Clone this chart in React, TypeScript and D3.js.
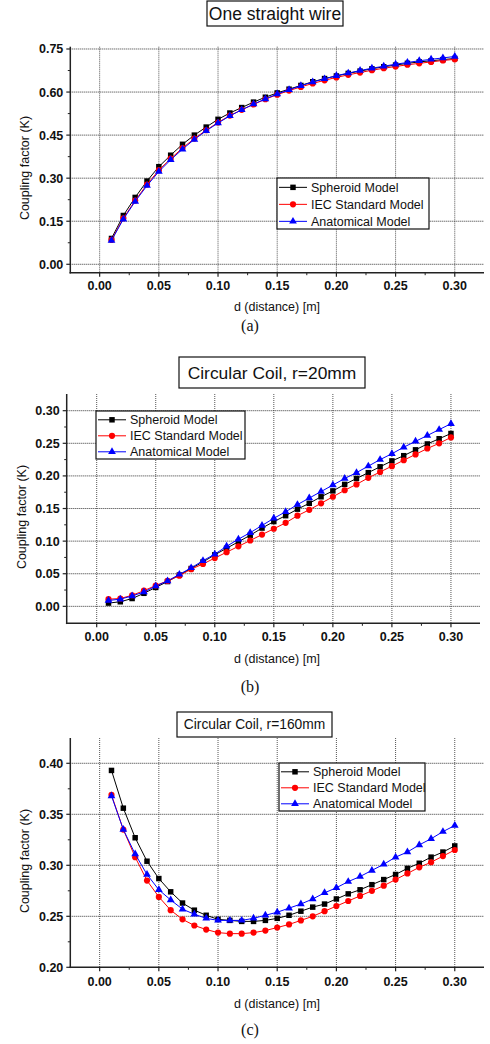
import * as d3 from 'd3';

// distance d [m]
const distance = [
  0.01, 0.02, 0.03, 0.04, 0.05, 0.06, 0.07, 0.08, 0.09, 0.1, 0.11, 0.12, 0.13, 0.14, 0.15,
  0.16, 0.17, 0.18, 0.19, 0.2, 0.21, 0.22, 0.23, 0.24, 0.25, 0.26, 0.27, 0.28, 0.29, 0.3,
];

const seriesNames = ['Spheroid Model', 'IEC Standard Model', 'Anatomical Model'];

// (a) one straight wire
const wireSpheroid = [
  0.09, 0.17, 0.233, 0.29, 0.34, 0.38, 0.418, 0.45, 0.478, 0.505, 0.527, 0.546, 0.565, 0.582, 0.597,
  0.61, 0.623, 0.636, 0.647, 0.656, 0.665, 0.673, 0.681, 0.688, 0.694, 0.7, 0.705, 0.709, 0.713, 0.717,
];
const wireIEC = [
  0.085, 0.16, 0.222, 0.278, 0.328, 0.368, 0.405, 0.438, 0.467, 0.494, 0.518, 0.538, 0.557, 0.575, 0.591,
  0.605, 0.618, 0.63, 0.641, 0.651, 0.66, 0.668, 0.676, 0.683, 0.689, 0.695, 0.7, 0.705, 0.71, 0.714,
];
const wireAnatomical = [
  0.083, 0.157, 0.219, 0.274, 0.323, 0.364, 0.401, 0.435, 0.465, 0.492, 0.517, 0.538, 0.558, 0.576, 0.593,
  0.608, 0.622, 0.635, 0.646, 0.657, 0.666, 0.675, 0.683, 0.69, 0.697, 0.703, 0.709, 0.714, 0.719, 0.724,
];

// (b) circular coil r=20mm
const coil20Spheroid = [
  0.005, 0.007, 0.012, 0.02, 0.029, 0.038, 0.048, 0.058, 0.068, 0.079, 0.089, 0.099, 0.109, 0.12, 0.13,
  0.139, 0.149, 0.158, 0.168, 0.177, 0.187, 0.196, 0.205, 0.214, 0.223, 0.231, 0.24, 0.249, 0.257, 0.265,
];
const coil20IEC = [
  0.011, 0.012, 0.017, 0.024, 0.032, 0.039, 0.047, 0.057, 0.065, 0.074, 0.083, 0.092, 0.101, 0.11, 0.119,
  0.128, 0.139, 0.148, 0.158, 0.168, 0.178, 0.187, 0.197, 0.206, 0.215, 0.224, 0.233, 0.242, 0.25, 0.259,
];
const coil20Anatomical = [
  0.009, 0.011, 0.016, 0.022, 0.031, 0.039, 0.049, 0.059, 0.07, 0.08, 0.092, 0.103, 0.113, 0.124, 0.135,
  0.145, 0.156, 0.166, 0.176, 0.186, 0.196, 0.205, 0.215, 0.225, 0.234, 0.244, 0.253, 0.262, 0.271, 0.28,
];

// (c) circular coil r=160mm
const coil160Spheroid = [
  0.393, 0.356, 0.327, 0.304, 0.287, 0.274, 0.263, 0.256, 0.251, 0.247, 0.246, 0.245, 0.245, 0.246, 0.248,
  0.251, 0.255, 0.259, 0.262, 0.267, 0.272, 0.276, 0.281, 0.286, 0.291, 0.297, 0.302, 0.308, 0.313, 0.319,
];
const coil160IEC = [
  0.369, 0.335, 0.308, 0.285, 0.269, 0.256, 0.247, 0.241, 0.237, 0.234, 0.233, 0.233, 0.234, 0.236, 0.239,
  0.242, 0.246, 0.25, 0.255, 0.26, 0.265, 0.27, 0.275, 0.28, 0.286, 0.292, 0.298, 0.303, 0.309, 0.315,
];
const coil160Anatomical = [
  0.368, 0.335, 0.311, 0.291, 0.276, 0.266, 0.257, 0.252, 0.248, 0.246, 0.246, 0.246, 0.248, 0.251, 0.254,
  0.258, 0.262, 0.267, 0.273, 0.278, 0.284, 0.289, 0.295, 0.301, 0.308, 0.313, 0.32, 0.326, 0.333, 0.339,
];

const xTicks = [0, 0.05, 0.1, 0.15, 0.2, 0.25, 0.3];
const xMinorTicks = [0.025, 0.075, 0.125, 0.175, 0.225, 0.275];
const wireYTicks = [0, 0.15, 0.3, 0.45, 0.6, 0.75];
const wireYMinor = [0.075, 0.225, 0.375, 0.525, 0.675];
const coil20YTicks = [0, 0.05, 0.1, 0.15, 0.2, 0.25, 0.3];
const coil20YMinor = [0.025, 0.075, 0.125, 0.175, 0.225, 0.275];
const coil160YTicks = [0.2, 0.25, 0.3, 0.35, 0.4];
const coil160YMinor = [0.225, 0.275, 0.325, 0.375];

const colors = ['#000000', '#ff0000', '#0000ff'];
const symbols = [d3.symbolSquare, d3.symbolCircle, d3.symbolTriangle];
const symbolSizes = [30, 30, 26];

const SANS = '"Liberation Sans", Arial, sans-serif';

const panels = [
  {
    title: 'One straight wire', titleSize: 17.5, titleBox: [207, 1, 136, 25], titleY: 20,
    series: [wireSpheroid, wireIEC, wireAnatomical],
    frame: { left: 70.3, right: 484, top: 46.7, bottom: 272.7 },
    xDomain: [-0.0248, 0.3247], yDomain: [-0.0293, 0.758],
    yTicks: wireYTicks, yMinor: wireYMinor,
    legend: [277, 178, 152, 51],
    yLabelX: 24, yLabelY: 168, xTickY: 290, xLabelY: 311,
    caption: '(a)', captionY: 331,
  },
  {
    title: 'Circular Coil, r=20mm', titleSize: 17.4, titleBox: [179, 357, 186, 31], titleY: 379,
    series: [coil20Spheroid, coil20IEC, coil20Anatomical],
    frame: { left: 66.7, right: 480, top: 394, bottom: 623.3 },
    xDomain: [-0.0254, 0.3246], yDomain: [-0.026, 0.3256],
    yTicks: coil20YTicks, yMinor: coil20YMinor,
    legend: [96, 411, 149, 48],
    yLabelX: 21, yLabelY: 517, xTickY: 641, xLabelY: 663,
    caption: '(b)', captionY: 692,
  },
  {
    title: 'Circular Coil, r=160mm', titleSize: 13.8, titleBox: [177, 712, 155, 25], titleY: 729,
    series: [coil160Spheroid, coil160IEC, coil160Anatomical],
    frame: { left: 70.3, right: 484, top: 738, bottom: 967.3 },
    xDomain: [-0.0248, 0.3247], yDomain: [0.2, 0.4248],
    yTicks: coil160YTicks, yMinor: coil160YMinor,
    legend: [279, 763, 146, 48],
    yLabelX: 24, yLabelY: 861, xTickY: 986, xLabelY: 1008,
    caption: '(c)', captionY: 1035,
  },
];

function Panel({ p }: { p: (typeof panels)[number] }) {
  const { frame } = p;
  const x = d3.scaleLinear().domain(p.xDomain).range([frame.left, frame.right]);
  const y = d3.scaleLinear().domain(p.yDomain).range([frame.bottom, frame.top]);
  const line = d3
    .line<number>()
    .x((_, i) => x(distance[i]))
    .y((d) => y(d));
  const [lx, ly, lw, lh] = p.legend;
  const rowH = lh / 3;
  const [tx, ty, tw, th] = p.titleBox;

  return (
    <g>
      {/* grid */}
      {xTicks.map((t) => (
        <line key={'gx' + t} x1={x(t)} x2={x(t)} y1={frame.top} y2={frame.bottom}
          stroke="#555" strokeWidth={1} strokeDasharray="1,1" />
      ))}
      {p.yTicks.map((t) =>
        y(t) < frame.bottom - 1 ? (
          <line key={'gy' + t} x1={frame.left} x2={frame.right} y1={y(t)} y2={y(t)}
            stroke="#333" strokeWidth={1} strokeDasharray="1,1" />
        ) : null
      )}

      {/* axes */}
      <line x1={frame.left} x2={frame.left} y1={frame.top} y2={frame.bottom + 0.75} stroke="#222" strokeWidth={1.5} />
      <line x1={frame.left - 0.75} x2={frame.right} y1={frame.bottom} y2={frame.bottom} stroke="#222" strokeWidth={1.5} />
      {p.yTicks.map((t) => (
        <g key={'yt' + t}>
          <line x1={frame.left - 4} x2={frame.left} y1={y(t)} y2={y(t)} stroke="#222" strokeWidth={1.2} />
          <text x={frame.left - 7} y={y(t)} dy="0.36em" textAnchor="end"
            fontFamily={SANS} fontWeight="bold" fontSize={12.5} fill="#111">
            {t.toFixed(2)}
          </text>
        </g>
      ))}
      {p.yMinor.map((t) => (
        <line key={'ym' + t} x1={frame.left - 2.5} x2={frame.left} y1={y(t)} y2={y(t)} stroke="#222" strokeWidth={1} />
      ))}
      {xTicks.map((t) => (
        <g key={'xt' + t}>
          <line x1={x(t)} x2={x(t)} y1={frame.bottom} y2={frame.bottom + 4} stroke="#222" strokeWidth={1.2} />
          <text x={x(t)} y={p.xTickY} textAnchor="middle"
            fontFamily={SANS} fontWeight="bold" fontSize={12.5} fill="#111">
            {t.toFixed(2)}
          </text>
        </g>
      ))}
      {xMinorTicks.map((t) => (
        <line key={'xm' + t} x1={x(t)} x2={x(t)} y1={frame.bottom} y2={frame.bottom + 2.5} stroke="#222" strokeWidth={1} />
      ))}

      {/* axis labels */}
      <text transform={`translate(${p.yLabelX},${p.yLabelY}) rotate(-90)`} dy="0.36em" textAnchor="middle"
        fontFamily={SANS} fontSize={12.5} fill="#111">
        Coupling factor (K)
      </text>
      <text x={277} y={p.xLabelY} textAnchor="middle" fontFamily={SANS} fontSize={12.5} fill="#111">
        d (distance) [m]
      </text>

      {/* series */}
      {p.series.map((vals, si) => (
        <g key={'s' + si}>
          <path d={line(vals) ?? ''} fill="none" stroke={colors[si]} strokeWidth={1} />
          {vals.map((v, i) => (
            <path key={i} transform={`translate(${x(distance[i])},${y(v)})`}
              d={d3.symbol(symbols[si], symbolSizes[si])() ?? ''} fill={colors[si]} />
          ))}
        </g>
      ))}

      {/* legend */}
      <rect x={lx} y={ly} width={lw} height={lh} fill="#fff" stroke="#111" strokeWidth={1.2} />
      {seriesNames.map((name, si) => {
        const cy = ly + rowH * (si + 0.55);
        return (
          <g key={name}>
            <line x1={lx + 2} x2={lx + 30} y1={cy} y2={cy} stroke={colors[si]} strokeWidth={1} />
            <path transform={`translate(${lx + 16},${cy})`}
              d={d3.symbol(symbols[si], symbolSizes[si])() ?? ''} fill={colors[si]} />
            <text x={lx + 34} y={cy} dy="0.36em" fontFamily={SANS} fontSize={12.5} fill="#111">
              {name}
            </text>
          </g>
        );
      })}

      {/* title */}
      <rect x={tx} y={ty} width={tw} height={th} fill="#fff" stroke="#111" strokeWidth={1.2} />
      <text x={tx + tw / 2} y={p.titleY} textAnchor="middle" fontFamily={SANS} fontSize={p.titleSize} fill="#111">
        {p.title}
      </text>

      <text x={250} y={p.captionY} textAnchor="middle" fontFamily='"Liberation Serif", "Times New Roman", serif'
        fontSize={16} fill="#111">
        {p.caption}
      </text>
    </g>
  );
}

export default function App() {
  return (
    <>
      <style>{'body{margin:0}'}</style>
      <svg width={490} height={1044} style={{ display: 'block', background: '#fff' }}>
        {panels.map((p) => (
          <Panel key={p.title} p={p} />
        ))}
      </svg>
    </>
  );
}
